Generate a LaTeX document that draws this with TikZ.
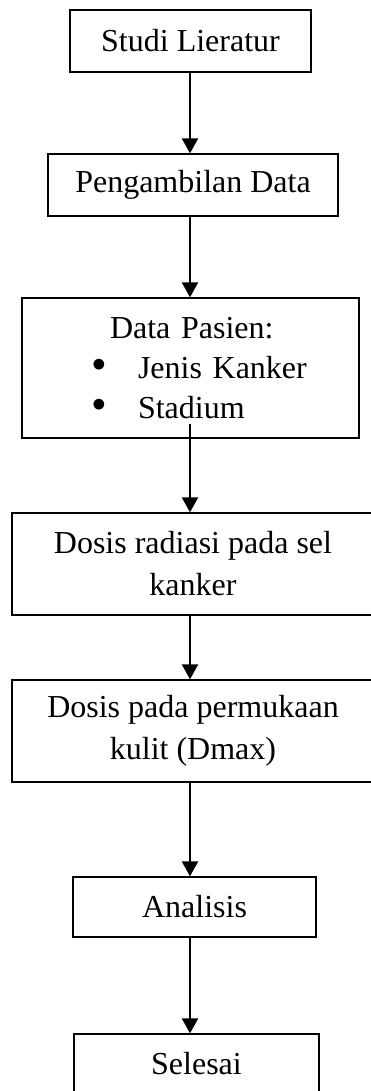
\documentclass[tikz,border=0pt]{standalone}
\usepackage{fontspec}
\setmainfont{Liberation Serif}
\usetikzlibrary{arrows.meta}

\tikzstyle{process} = [rectangle, minimum width=241pt, minimum height=62pt, inner sep=0pt, text centered, draw=black, line width=1.3pt, font=\fontsize{32}{42}\selectfont]
\tikzstyle{arrow} = [line width=2.2pt, -{Triangle[length=15pt, width=16pt]}]
\newcommand{\itembullet}{\makebox[47pt][l]{\raisebox{-1pt}{\scalebox{1.4}{\textbullet}}}}

\begin{document}
\begin{tikzpicture}[x=1pt, y=1pt]

\clip (0,0) rectangle (371,-1091);
\coordinate (axis) at (190,0);

\node (studi) [process] at (190.5,-41) {Studi Lieratur};
\node (ambil) [process, minimum width=290pt] at (193,-185) {Pengambilan Data};
\node (pasien) [process, minimum width=337pt, minimum height=140pt, text width=337pt, align=left, font=\fontsize{32}{40}\selectfont] at (190.5,-368) {\hspace*{88pt}Data Pasien:\\ \hspace*{69pt}\itembullet Jenis Kanker\\ \hspace*{69pt}\itembullet Stadium};
\node (sel) [process, minimum width=362pt, minimum height=102pt, align=center] at (193,-564) {Dosis radiasi pada sel\\kanker};
\node (kulit) [process, minimum width=362pt, minimum height=102pt, align=center] at (193,-731) {Dosis pada permukaan\\kulit (Dmax)};
\node (analisis) [process, minimum width=243pt, minimum height=60pt] at (194.5,-907) {Analisis};
\node (selesai) [process, minimum width=245pt, minimum height=60pt] at (196.5,-1064) {Selesai};

\draw [arrow] (studi.south -| axis) -- (ambil.north -| axis);
\draw [arrow] (ambil.south -| axis) -- (pasien.north -| axis);
\draw [arrow] ([yshift=15pt]pasien.south -| axis) -- (sel.north -| axis);
\draw [arrow] (sel.south -| axis) -- (kulit.north -| axis);
\draw [arrow] (kulit.south -| axis) -- (analisis.north -| axis);
\draw [arrow] (analisis.south -| axis) -- (selesai.north -| axis);

\end{tikzpicture}
\end{document}
